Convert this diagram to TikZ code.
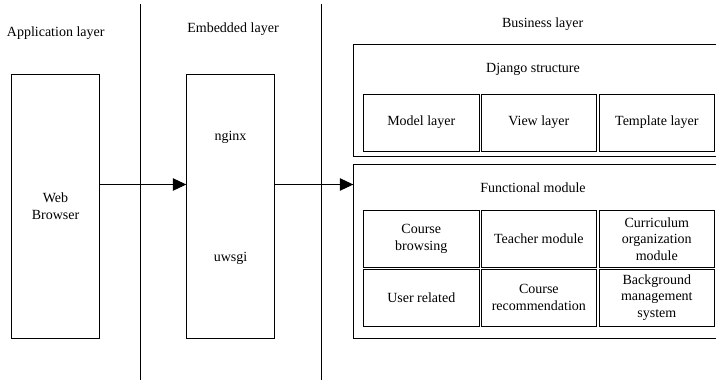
\documentclass[tikz,border=0pt]{standalone}
\usepackage{fontspec}
\setmainfont{Liberation Serif}
\usetikzlibrary{arrows.meta}
\begin{document}
\begin{tikzpicture}[x=1pt,y=-1pt,
  every node/.style={font=\fontsize{14}{16.6}\selectfont, inner sep=0pt, outer sep=0pt},
  box/.style={draw, line width=1pt, anchor=north west, align=center},
  lbl/.style={align=center},
  arr/.style={line width=1pt, -{Triangle[length=13.5pt,width=12.5pt]}},
  sep/.style={line width=1pt}
]
\clip (0,0) rectangle (716,380);
\fill[white] (0,0) rectangle (716,380);
% separator lines
\coordinate (s1t) at (140,4);
\coordinate (s1b) at (140,380);
\coordinate (s2t) at (321.5,4);
\coordinate (s2b) at (321.5,380);
\draw[sep] (s1t) -- (s1b);
\draw[sep] (s2t) -- (s2b);
% layer labels
\node[lbl] (lapp) at (55.7,33) {Application layer};
\node[lbl] (lemb) at (233,29) {Embedded layer};
\node[lbl] (lbus) at (542.7,24) {Business layer};
% web browser
\node[box, minimum width=88.4pt, minimum height=264pt] (web) at (11.3,74) {Web\\Browser};
% embedded
\node[box, minimum width=88.4pt, minimum height=264pt] (emb) at (186.3,74) {};
\node[lbl] (nginx) at (230.5,137) {nginx};
\node[lbl] (uwsgi) at (230.5,258) {uwsgi};
% django
\node[box, minimum width=380pt, minimum height=112.7pt] (django) at (353.3,44) {};
\node[lbl] (ldj) at (533,69.3) {Django structure};
\node[box, minimum width=116pt, minimum height=56.7pt] (model) at (363.3,94.3) {Model layer};
\node[box, minimum width=114.3pt, minimum height=56.7pt] (view) at (481.7,94.3) {View layer};
\node[box, minimum width=114.3pt, minimum height=56.7pt] (tmpl) at (599.7,94.3) {Template layer};
% functional
\node[box, minimum width=380pt, minimum height=173.6pt] (func) at (353.3,164.7) {};
\node[lbl] (lfn) at (533,187.3) {Functional module};
\node[box, minimum width=116pt, minimum height=56.6pt] (f1) at (363.3,210.7) {Course\\browsing};
\node[box, minimum width=114.3pt, minimum height=56.6pt] (f2) at (481.7,210.7) {Teacher module};
\node[box, minimum width=114.3pt, minimum height=56.6pt] (f3) at (599.7,210.7) {Curriculum\\organization\\module};
\node[box, minimum width=116pt, minimum height=56.7pt] (f4) at (363.3,269.3) {User related};
\node[box, minimum width=114.3pt, minimum height=56.7pt] (f5) at (481.7,269.3) {Course\\recommendation};
\node[box, minimum width=114.3pt, minimum height=56.7pt] (f6) at (599.7,269.3) {Background\\management\\system};
% arrows
\coordinate (ay) at (0,184.5);
\draw[arr] (web.east |- ay) -- (emb.west |- ay);
\draw[arr] (emb.east |- ay) -- (func.west |- ay);
\end{tikzpicture}
\end{document}
